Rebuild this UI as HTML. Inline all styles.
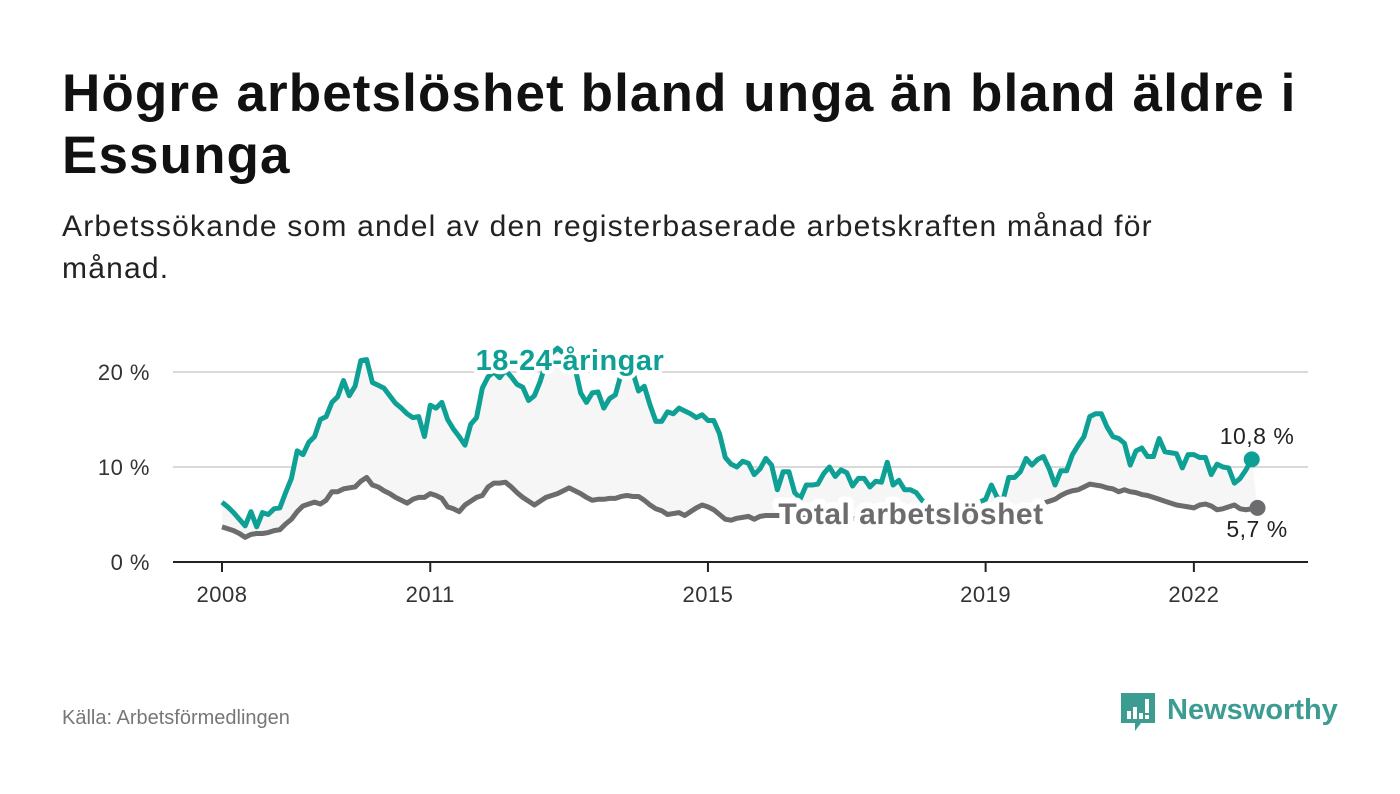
<!DOCTYPE html>
<html><head><meta charset="utf-8">
<style>
body{margin:0;background:#fff;width:1400px;height:794px;overflow:hidden;font-family:"Liberation Sans",sans-serif;}
#title{position:absolute;left:62px;top:63px;width:1330px;font-size:53px;font-weight:bold;line-height:62px;color:#111;margin:0;letter-spacing:1.1px;}
#sub{position:absolute;left:62px;top:206px;width:1330px;font-size:30px;line-height:42px;color:#222;margin:0;letter-spacing:1.2px;}
#src{position:absolute;left:62px;top:707px;font-size:20px;color:#777;}
#logo{position:absolute;left:1119px;top:691px;}
</style></head><body>
<h1 id="title">Högre arbetslöshet bland unga än bland äldre i<br>Essunga</h1>
<p id="sub">Arbetssökande som andel av den registerbaserade arbetskraften månad för<br>månad.</p>
<svg id="chart" width="1400" height="794" style="position:absolute;left:0;top:0" xmlns="http://www.w3.org/2000/svg"></svg>
<div id="src">Källa: Arbetsförmedlingen</div>
<div id="logo">
<svg width="220" height="44" xmlns="http://www.w3.org/2000/svg">
<path d="M2 2h34v30h-14l-6 8v-8H2z" fill="#3d9c92"/>
<rect x="8" y="20" width="4" height="8" fill="#fff"/><rect x="14" y="16" width="4" height="12" fill="#fff"/><rect x="20" y="22" width="4" height="6" fill="#fff"/><rect x="26" y="8" width="4" height="14" fill="#fff"/><rect x="26" y="24" width="4" height="4" fill="#fff"/>
<text x="48" y="28" font-family="Liberation Sans, sans-serif" font-size="29" font-weight="bold" fill="#3d9c92">Newsworthy</text>
</svg></div>
<script>
const yTicks=[0,10,20];
const yTickLabels=["0 %","10 %","20 %"];
const xTickMonths=[0,36,84,132,168];
const xTickLabels=["2008","2011","2015","2019","2022"];
const youth=[6.3,5.8,5.2,4.5,3.8,5.3,3.7,5.2,5.0,5.6,5.7,7.3,
8.8,11.7,11.3,12.6,13.2,15.0,15.3,16.8,17.4,19.1,17.5,18.5,
21.2,21.3,18.9,18.6,18.3,17.5,16.7,16.2,15.6,15.2,15.3,13.2,
16.5,16.2,16.8,15.0,14.0,13.2,12.3,14.5,15.2,18.3,19.5,20.0,
19.4,20.2,19.5,18.7,18.4,17.0,17.5,19.0,21.0,22.0,22.5,22.0,
21.5,20.5,17.8,16.8,17.8,17.9,16.2,17.2,17.6,19.8,21.2,20.0,
18.0,18.5,16.5,14.8,14.8,15.8,15.6,16.2,15.9,15.6,15.2,15.5,
14.9,14.9,13.5,11.0,10.3,10.0,10.6,10.4,9.2,9.8,10.9,10.2,
7.6,9.5,9.5,7.3,6.7,8.1,8.1,8.2,9.3,10.0,9.0,9.7,
9.4,8.0,8.8,8.8,7.9,8.5,8.4,10.5,8.1,8.6,7.6,7.6,
7.3,6.5,6.0,5.8,5.6,5.5,5.6,5.8,6.0,6.0,6.3,6.3,
6.6,8.1,6.8,6.5,8.9,8.9,9.5,10.9,10.2,10.8,11.1,9.8,
8.1,9.6,9.6,11.3,12.3,13.2,15.3,15.6,15.6,14.2,13.2,13.0,
12.5,10.2,11.7,12.0,11.1,11.1,13.0,11.6,11.5,11.4,9.9,11.3,
11.3,11.0,11.0,9.2,10.3,10.0,9.9,8.3,8.8,9.7,10.8];
const total=[3.7,3.5,3.3,3.0,2.6,2.9,3.0,3.0,3.1,3.3,3.4,4.0,
4.5,5.3,5.9,6.1,6.3,6.1,6.5,7.4,7.4,7.7,7.8,7.9,
8.5,8.9,8.1,7.9,7.5,7.2,6.8,6.5,6.2,6.6,6.8,6.8,
7.2,7.0,6.7,5.8,5.6,5.3,6.0,6.4,6.8,7.0,7.9,8.3,
8.3,8.4,7.9,7.3,6.8,6.4,6.0,6.4,6.8,7.0,7.2,7.5,
7.8,7.5,7.2,6.8,6.5,6.6,6.6,6.7,6.7,6.9,7.0,6.9,
6.9,6.5,6.0,5.6,5.4,5.0,5.1,5.2,4.9,5.3,5.7,6.0,
5.8,5.5,5.0,4.5,4.4,4.6,4.7,4.8,4.5,4.8,4.9,4.9,
4.9,4.9,4.8,4.8,4.8,4.7,4.7,4.7,4.7,4.6,4.6,4.6,
4.6,4.6,4.5,4.5,4.5,4.5,4.6,4.6,4.5,4.5,4.5,4.4,
4.4,4.4,4.3,4.3,4.3,4.3,4.4,4.4,4.4,4.5,4.5,4.6,
4.6,4.7,4.8,4.9,5.0,5.2,5.4,5.6,5.8,6.0,6.2,6.4,
6.6,7.0,7.3,7.5,7.6,7.9,8.2,8.1,8.0,7.8,7.7,7.4,
7.6,7.4,7.3,7.1,7.0,6.8,6.6,6.4,6.2,6.0,5.9,5.8,
5.7,6.0,6.1,5.9,5.5,5.6,5.8,6.0,5.6,5.5,5.6,5.7];
const TEAL="#0fa095",GRAY="#6c6b6d";
const svg=document.getElementById('chart');
const NS="http://www.w3.org/2000/svg";
const xS=i=>222+i*5.785;
const yS=v=>562-v*9.5;
function mk(tag,attrs,parent){const e=document.createElementNS(NS,tag);for(const k in attrs)e.setAttribute(k,attrs[k]);(parent||svg).appendChild(e);return e;}
yTicks.forEach((t,k)=>{
  if(t>0){const g=mk('line',{x1:173,x2:1308,y1:yS(t),y2:yS(t),stroke:'#d9d9d9','stroke-width':2});
  
  }
  const tx=mk('text',{x:150,y:yS(t)+8,'text-anchor':'end','font-size':22,fill:'#333','letter-spacing':'0.5','font-family':'Liberation Sans, sans-serif'});
  tx.textContent=yTickLabels[k];
  
  
});
let pts=youth.map((v,i)=>xS(i)+','+yS(v));
let back=total.map((v,i)=>xS(i)+','+yS(v)).reverse();
const area=mk('polygon',{points:pts.concat(back).join(' '),fill:'#f6f6f7'});


const axis=mk('line',{x1:173,x2:1308,y1:562,y2:562,stroke:'#222','stroke-width':2});


xTickMonths.forEach((m,k)=>{
  const l=mk('line',{x1:xS(m),x2:xS(m),y1:562,y2:572,stroke:'#222','stroke-width':2});
  
  
  const tx=mk('text',{x:xS(m),y:602,'text-anchor':'middle','font-size':22,fill:'#333','letter-spacing':'0.5','font-family':'Liberation Sans, sans-serif'});
  tx.textContent=xTickLabels[k];
  
  
});
const gl=mk('polyline',{points:total.map((v,i)=>xS(i)+','+yS(v)).join(' '),fill:'none',stroke:GRAY,'stroke-width':5,'stroke-linejoin':'round'});


const tl=mk('polyline',{points:pts.join(' '),fill:'none',stroke:TEAL,'stroke-width':5,'stroke-linejoin':'round'});


const li=youth.length-1;
const d1=mk('circle',{cx:xS(li),cy:yS(youth[li]),r:8,fill:TEAL});


const d2=mk('circle',{cx:xS(total.length-1),cy:yS(total[total.length-1]),r:8,fill:GRAY});


function lab(txt,x,y,size,fill,bold,name,sw){
  const t=mk('text',{x:x,y:y,'text-anchor':'middle','font-size':size,fill:fill,'font-weight':bold?'bold':'normal',stroke:'#fff','stroke-width':sw,'paint-order':'stroke','stroke-linejoin':'round','letter-spacing':'0.5','font-family':'Liberation Sans, sans-serif'});
  t.textContent=txt;
  
  
}
lab('18-24-åringar',570,370,29,TEAL,true,'youth-series-label',8);
lab('Total arbetslöshet',911,524,30,GRAY,true,'total-series-label',12);
lab('10,8 %',1257,444,23,'#222',false,'youth-end-value',5);
lab('5,7 %',1257,537,23,'#222',false,'total-end-value',5);
</script>
</body></html>
